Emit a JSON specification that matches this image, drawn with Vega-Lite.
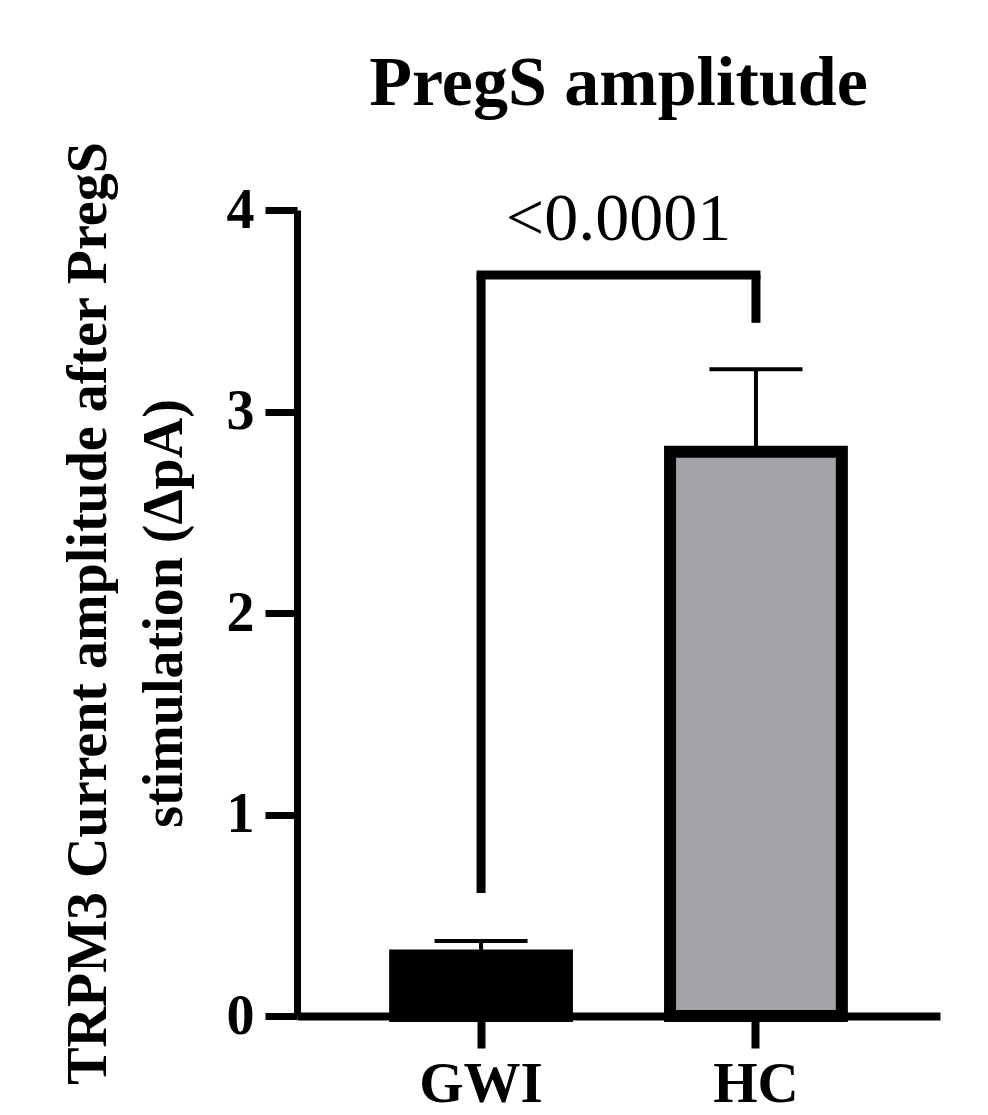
{
  "$schema": "https://vega.github.io/schema/vega-lite/v6.json",
  "width": 643,
  "height": 806,
  "autosize": {"type": "none"},
  "padding": {"left": 297, "top": 210, "right": 48, "bottom": 99},
  "background": "white",
  "config": {
    "view": {"stroke": null},
    "font": "Liberation Serif"
  },
  "title": {
    "text": "PregS amplitude",
    "font": "Liberation Serif",
    "fontSize": 70,
    "fontWeight": "bold",
    "color": "black",
    "anchor": "middle",
    "offset": 21
  },
  "datasets": {
    "bars": [
      {"group": "GWI", "mean": 0.30, "upper": 0.372},
      {"group": "HC", "mean": 2.80, "upper": 3.21}
    ],
    "bracketV": [
      {"group": "GWI", "y1": 0.61, "y2": 3.677},
      {"group": "HC", "y1": 3.44, "y2": 3.677}
    ],
    "bracketH": [
      {"from": "GWI", "to": "HC", "y": 3.677}
    ],
    "pval": [
      {"label": "<0.0001", "y": 3.85}
    ]
  },
  "layer": [
    {
      "data": {"name": "bars"},
      "mark": {"type": "rule", "color": "black", "strokeWidth": 4, "opacity": 1},
      "encoding": {
        "x": {"field": "group", "type": "nominal"},
        "y": {"field": "mean", "type": "quantitative"},
        "y2": {"field": "upper"}
      }
    },
    {
      "data": {"name": "bars"},
      "mark": {"type": "tick", "color": "black", "thickness": 4, "size": 93, "orient": "horizontal", "opacity": 1},
      "encoding": {
        "x": {"field": "group", "type": "nominal"},
        "y": {"field": "upper", "type": "quantitative"}
      }
    },
    {
      "data": {"name": "bars"},
      "mark": {"type": "bar", "stroke": "black", "strokeWidth": 12, "opacity": 1},
      "encoding": {
        "x": {
          "field": "group",
          "type": "nominal",
          "sort": ["GWI", "HC"],
          "scale": {"paddingInner": 0.375, "paddingOuter": 0.357},
          "axis": {
            "title": null,
            "labelAngle": 0,
            "labelAlign": "center",
            "labelBaseline": "top",
            "labelFont": "Liberation Serif",
            "labelFontWeight": "bold",
            "labelFontSize": 57,
            "labelColor": "black",
            "labelPadding": 8,
            "domainColor": "black",
            "domainWidth": 8,
            "tickColor": "black",
            "tickWidth": 8,
            "tickSize": 32,
            "zindex": 1
          }
        },
        "y": {
          "field": "mean",
          "type": "quantitative",
          "scale": {"domain": [0, 4], "nice": false, "zero": true},
          "axis": {
            "values": [0, 1, 2, 3, 4],
            "format": "d",
            "grid": false,
            "title": ["TRPM3 Current amplitude after PregS", "stimulation (ΔpA)"],
            "titleFont": "Liberation Serif",
            "titleFontWeight": "bold",
            "titleFontSize": 56,
            "titleLineHeight": 76,
            "titleColor": "black",
            "titleX": -180,
            "labelFont": "Liberation Serif",
            "labelFontWeight": "bold",
            "labelFontSize": 56,
            "labelColor": "black",
            "labelPadding": 11,
            "domainColor": "black",
            "domainWidth": 7,
            "tickColor": "black",
            "tickWidth": 7,
            "tickSize": 32,
            "zindex": 1
          }
        },
        "fill": {
          "field": "group",
          "type": "nominal",
          "scale": {"domain": ["GWI", "HC"], "range": ["#000000", "#a3a2a7"]},
          "legend": null
        }
      }
    },
    {
      "data": {"name": "bracketV"},
      "mark": {"type": "rule", "color": "black", "strokeWidth": 9, "strokeCap": "butt"},
      "encoding": {
        "x": {"field": "group", "type": "nominal"},
        "y": {"field": "y1", "type": "quantitative"},
        "y2": {"field": "y2"}
      }
    },
    {
      "data": {"name": "bracketH"},
      "mark": {"type": "rule", "color": "black", "strokeWidth": 9, "strokeCap": "square"},
      "encoding": {
        "x": {"field": "from", "type": "nominal"},
        "x2": {"field": "to"},
        "y": {"field": "y", "type": "quantitative"}
      }
    },
    {
      "data": {"name": "pval"},
      "mark": {"type": "text", "font": "Liberation Serif", "fontSize": 68, "color": "black", "align": "center", "baseline": "alphabetic"},
      "encoding": {
        "text": {"field": "label", "type": "nominal"},
        "y": {"field": "y", "type": "quantitative"}
      }
    }
  ]
}
